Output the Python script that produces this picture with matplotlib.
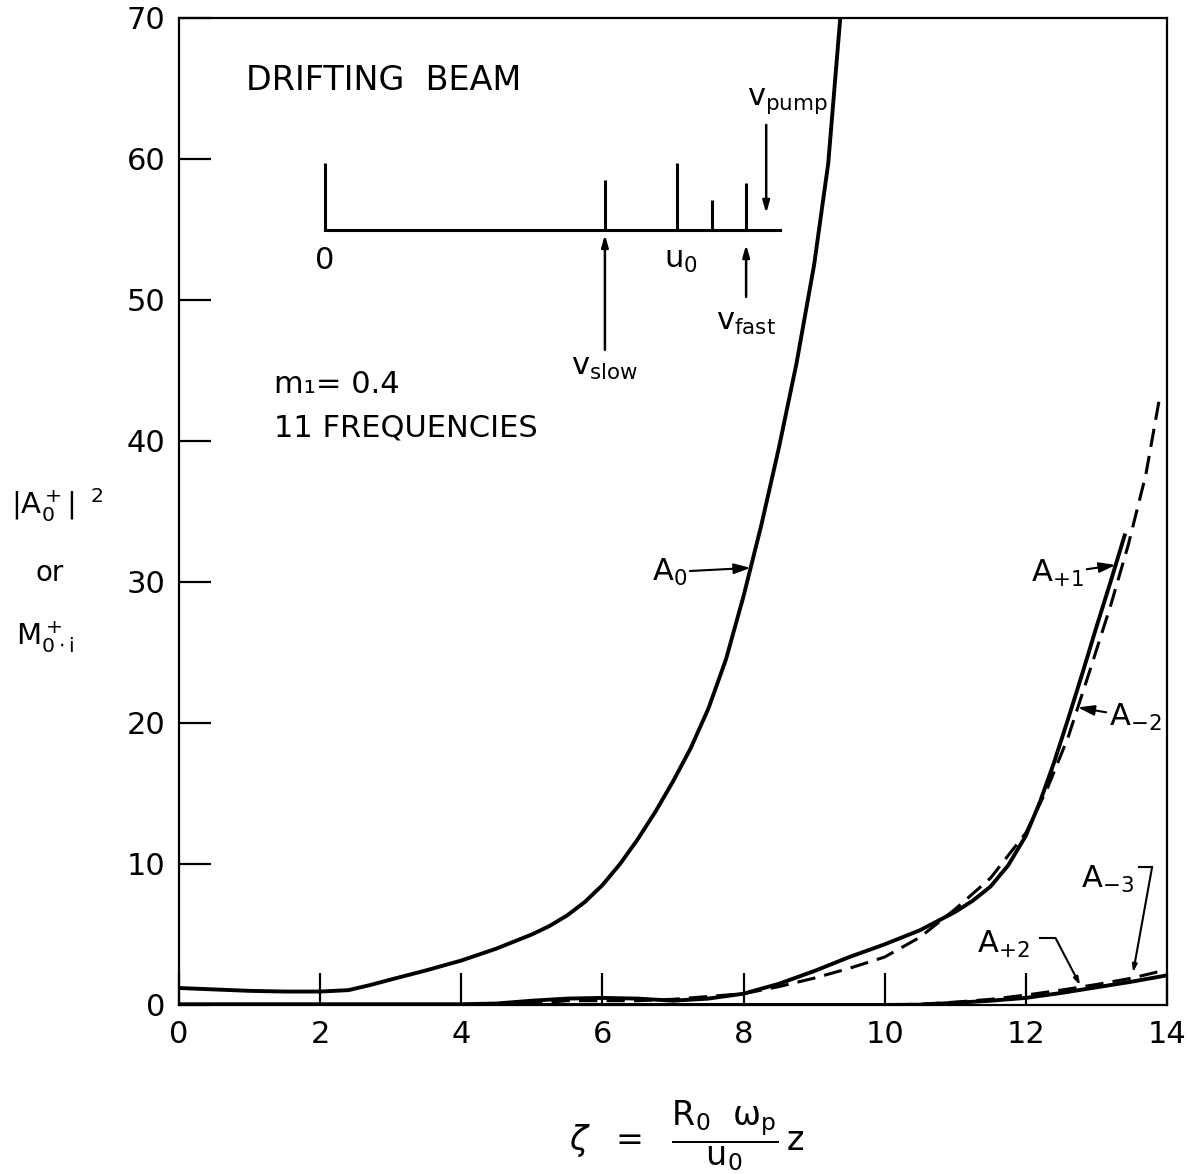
"""Drifting beam: growth of |A0+|^2 along zeta (11 frequencies, m1 = 0.4)"""
import matplotlib.pyplot as plt
import numpy as np

# ===== curve data
# A0 (solid)
z_a0 = [0, 0.5, 1, 1.5, 2, 2.4, 2.7, 3, 3.5, 4, 4.5, 5, 5.25, 5.5, 5.75, 6, 6.25, 6.5, 6.75, 7,
        7.25, 7.5, 7.75, 8, 8.25, 8.5, 8.75, 9, 9.2, 9.37]
a0 = [1.2, 1.1, 1.0, 0.95, 0.95, 1.05, 1.4, 1.8, 2.45, 3.15, 4.0, 5.0, 5.6, 6.35, 7.3, 8.5, 10.0, 11.75, 13.7, 15.85,
      18.2, 21.0, 24.5, 29.0, 34.0, 39.5, 45.5, 52.5, 59.7, 70.0]

# A+1 (solid)
z_ap1 = [0, 2, 4, 4.5, 5, 5.5, 6, 6.5, 7, 7.5, 8, 8.5, 9, 9.5, 10, 10.5, 11, 11.25, 11.5, 11.75,
         12, 12.2, 12.4, 12.6, 12.8, 13, 13.2, 13.4]
ap1 = [0.05, 0.05, 0.05, 0.1, 0.3, 0.45, 0.5, 0.45, 0.3, 0.45, 0.8, 1.5, 2.4, 3.4, 4.3, 5.3, 6.6, 7.4, 8.4, 9.9,
       12.0, 14.4, 17.2, 20.3, 23.5, 26.8, 30.0, 33.3]

# A-2 (dashed)
z_am2 = [4.5, 5, 5.5, 6, 6.5, 7, 7.5, 8, 8.5, 9, 9.5, 10, 10.5, 11, 11.5, 12, 12.3, 12.6, 12.9,
         13.2, 13.45, 13.7, 13.9]
am2 = [0.05, 0.1, 0.3, 0.3, 0.3, 0.4, 0.6, 0.8, 1.3, 1.9, 2.6, 3.4, 4.8, 6.8, 9.0, 12.2, 15.3, 19.0, 23.6,
       28.3, 32.6, 37.6, 43.2]

# A+2 (solid)
z_ap2 = [0, 4, 8, 10, 10.5, 11, 11.5, 12, 12.5, 13, 13.5, 14]
ap2 = [0, 0, 0, 0, 0.02, 0.15, 0.3, 0.5, 0.85, 1.25, 1.65, 2.1]

# A-3 (dashed)
z_am3 = [0, 4, 8, 10, 10.5, 11, 11.5, 12, 12.5, 13, 13.5, 14]
am3 = [0, 0, 0, 0, 0.05, 0.2, 0.4, 0.7, 1.05, 1.45, 1.9, 2.5]

# inset spectrum (velocity normalised by u0, relative line heights)
freq_pos = [0.0, 0.795, 1.0, 1.10, 1.196]
freq_amp = [1.0, 0.75, 1.0, 0.45, 0.70]
v_slow = 0.795
v_fast = 1.196
v_pump = 1.253

x_ticks = [0, 2, 4, 6, 8, 10, 12, 14]
x_ticklabels = ["0", "2", "4", "6", "8", "10", "12", "14"]
y_ticks = [0, 10, 20, 30, 40, 50, 60, 70]


def main():
    """メイン関数"""
    plt.rcParams["font.family"] = ["DejaVu Sans"]
    plt.rcParams["mathtext.fontset"] = "dejavusans"

    fig = plt.figure(figsize=(11.88, 11.74), dpi=100)
    ax = fig.add_axes([0.1507, 0.1440, 0.8316, 0.8407])

    lw = 2.8
    dash = (6, 3)

    # ===== curves
    ax.plot(z_a0, a0, color="black", lw=lw, solid_joinstyle="round")
    ax.plot(z_ap1, ap1, color="black", lw=lw, solid_joinstyle="round")
    ax.plot(z_am2, am2, color="black", lw=2.2, ls=(0, dash))
    ax.plot(z_ap2, ap2, color="black", lw=lw, solid_joinstyle="round")
    ax.plot(z_am3, am3, color="black", lw=2.2, ls=(0, dash))

    ax.set_xlim(0, 14)
    ax.set_ylim(0, 70)
    ax.set_xticks(x_ticks)
    ax.set_xticklabels(x_ticklabels)
    ax.set_yticks(y_ticks)
    ax.tick_params(direction="in", length=23, width=1.6, labelsize=22)
    ax.tick_params(axis="x", pad=11)
    ax.tick_params(axis="y", pad=10)
    for sp in ax.spines.values():
        sp.set_linewidth(1.6)

    # ===== text annotations
    ax.text(0.95, 65.6, "DRIFTING  BEAM", fontsize=24, va="center", ha="left")
    ax.text(1.35, 44.0, "m₁= 0.4", fontsize=22, va="center", ha="left")
    ax.text(1.35, 40.9, "11 FREQUENCIES", fontsize=22, va="center", ha="left")

    arrow = dict(arrowstyle="-|>,head_length=0.45,head_width=0.14", color="black", lw=1.5,
                 shrinkA=0, shrinkB=0)
    y_a0 = 31.0
    ax.annotate(r"$\mathregular{A_0}$", xy=(np.interp(y_a0, a0, z_a0), y_a0),
                xytext=(6.95, 30.7), fontsize=22, ha="center", va="center",
                arrowprops=arrow)
    y_ap1 = 31.2
    ax.annotate(r"$\mathregular{A_{+1}}$", xy=(np.interp(y_ap1, ap1, z_ap1), y_ap1),
                xytext=(12.45, 30.6), fontsize=22, ha="center", va="center",
                arrowprops=arrow)
    y_am2 = 21.1
    ax.annotate(r"$\mathregular{A_{-2}}$", xy=(np.interp(y_am2, am2, z_am2), y_am2),
                xytext=(13.55, 20.4), fontsize=22, ha="center", va="center",
                arrowprops=arrow)

    # A-3 / A+2 labels with bent leaders
    ax.text(13.16, 8.9, r"$\mathregular{A_{-3}}$", fontsize=22, ha="center", va="center")
    ax.plot([13.6, 13.79], [9.8, 9.8], color="black", lw=1.5)
    ax.annotate("", xy=(13.52, 2.3), xytext=(13.79, 9.8), arrowprops=arrow)
    ax.text(11.68, 4.3, r"$\mathregular{A_{+2}}$", fontsize=22, ha="center", va="center")
    ax.plot([12.2, 12.42], [4.75, 4.75], color="black", lw=1.5)
    ax.annotate("", xy=(12.77, 1.4), xytext=(12.42, 4.75), arrowprops=arrow)

    # ===== inset: frequency spectrum
    ins = fig.add_axes([0.2525, 0.6678, 0.4209, 0.2726])
    ins.set_xlim(-0.071, 1.349)
    ins.set_ylim(-2.39, 2.39)
    ins.axis("off")
    ins.plot([0, 1.293], [0, 0], color="black", lw=2.2)
    ins.vlines(freq_pos, 0, freq_amp, color="black", lw=2.2)
    ins.text(0.0, -0.45, "0", fontsize=22, ha="center", va="center")
    ins.text(1.01, -0.45, r"$\mathregular{u_0}$", fontsize=22, ha="center", va="center")
    big_arrow = dict(arrowstyle="-|>,head_length=0.7,head_width=0.2", color="black", lw=1.8,
                     shrinkA=0, shrinkB=0)
    ins.annotate("", xy=(v_slow, -0.07), xytext=(v_slow, -1.79), arrowprops=big_arrow)
    ins.text(v_slow, -2.05, r"$\mathregular{v_{slow}}$", fontsize=22, ha="center", va="center")
    ins.annotate("", xy=(v_fast, -0.22), xytext=(v_fast, -1.0), arrowprops=big_arrow)
    ins.text(v_fast, -1.38, r"$\mathregular{v_{fast}}$", fontsize=22, ha="center", va="center")
    ins.annotate("", xy=(v_pump, 0.25), xytext=(v_pump, 1.57), arrowprops=big_arrow)
    ins.text(v_pump + 0.06, 1.92, r"$\mathregular{v_{pump}}$", fontsize=22, ha="center",
             va="center")

    # ===== axis labels
    fig.text(0.048, 0.570, r"$\mathregular{|A_0^+|^{\ \ 2}}$", fontsize=21, ha="center", va="center")
    fig.text(0.042, 0.512, "or", fontsize=20, ha="center", va="center")
    fig.text(0.038, 0.457, r"$\mathregular{M_{0\cdot i}^+}$", fontsize=21, ha="center", va="center")
    fig.text(0.578, 0.033,
             r"$\zeta\ \ =\ \ \dfrac{\mathregular{R_0\ \ \omega_p}}{\mathregular{u_0}}\,\mathregular{z}$",
             fontsize=24, ha="center", va="center")

    fig.savefig("out.png", dpi=100, facecolor="white")


if __name__ == "__main__":
    main()
